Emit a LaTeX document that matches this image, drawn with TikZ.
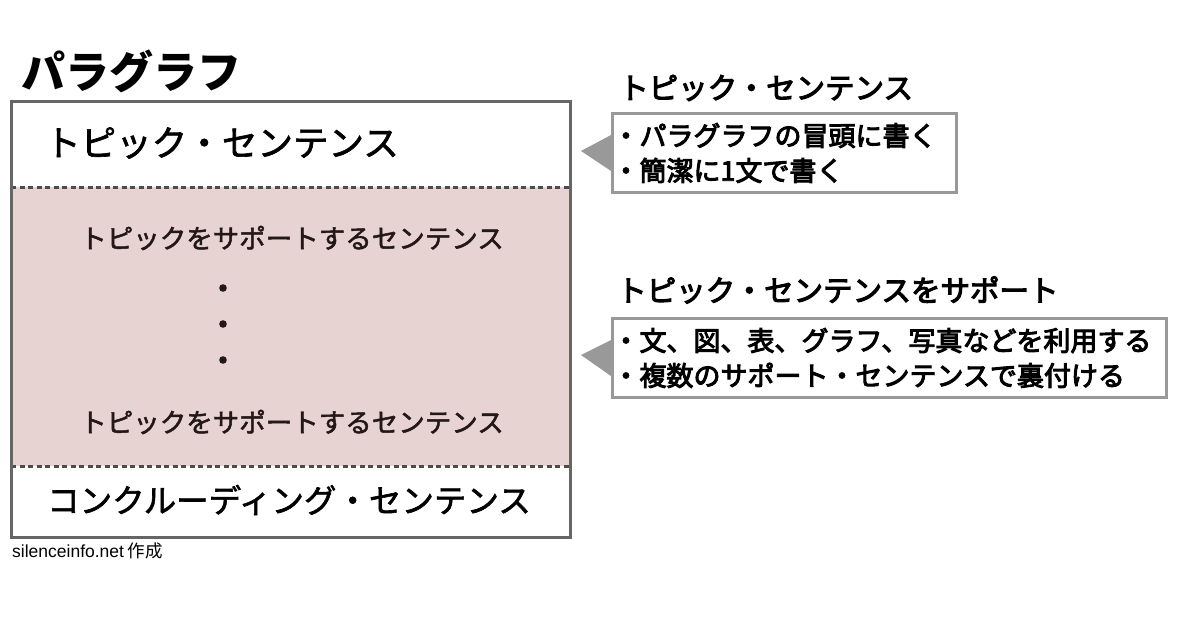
\documentclass[tikz,border=0pt]{standalone}
\usepackage{fontspec}
\setmainfont{Noto Sans CJK JP}
\newfontfamily\creditfont{Liberation Sans}
\newfontfamily\medfont[FakeBold=1.8]{Noto Sans CJK JP}
\newfontfamily\semifont[FakeBold=3.6]{Noto Sans CJK JP}
\usetikzlibrary{calc}
\definecolor{framegray}{HTML}{666666}
\definecolor{dashgray}{HTML}{4D4D4D}
\definecolor{notegray}{HTML}{999999}
\definecolor{supportbg}{HTML}{E6D3D2}
\definecolor{supportink}{HTML}{231815}
\tikzstyle{lbl}=[inner sep=0pt,text=black]
\tikzstyle{sect}=[lbl,font=\medfont\fontsize{33}{33}\selectfont]
\tikzstyle{supp}=[inner sep=0pt,text=supportink,font=\medfont\fontsize{26.5}{26.5}\selectfont]
\tikzstyle{head}=[lbl,font=\semifont\fontsize{29.5}{29.5}\selectfont]
\tikzstyle{note}=[draw=notegray,line width=3pt,fill=white,minimum height=79pt,inner sep=0pt,
  align=left,text width=#1,font=\semifont\fontsize{27}{35}\selectfont]
\tikzstyle{divider}=[draw=dashgray,line width=3pt,dash pattern=on 5pt off 3.5pt]
\tikzstyle{pointer}=[fill=notegray]

\begin{document}
\begin{tikzpicture}[x=1pt,y=-1pt]
	\useasboundingbox (0,0) rectangle (1178,632);
	% paragraph frame
	\fill[supportbg] (11,187) rectangle (570,466);
	\draw[divider] (11,187) -- (570,187);
	\draw[divider] (11,466) -- (570,466);
	\draw[framegray,line width=3pt] (11,101) rectangle (570,537);
	\node[lbl,font=\bfseries\fontsize{44}{44}\selectfont,anchor=west] (title) at (21,71) {パラグラフ};
	\node[sect,anchor=west,font=\medfont\fontsize{35.5}{35.5}\selectfont] (topic) at (45,143) {トピック・センテンス};
	\node[supp] (supA) at (292,238) {トピックをサポートするセンテンス};
	\foreach \y in {288,324,360} \fill[supportink] (223,\y) circle (3.8pt);
	\node[supp] (supB) at (292,422) {トピックをサポートするセンテンス};
	\node[sect,font=\medfont\fontsize{32.5}{32.5}\selectfont] (concl) at (289,500) {コンクルーディング・センテンス};
	\node[inner sep=0pt,anchor=west,font=\fontsize{17.5}{17.5}\selectfont] (credit) at (12,551) {{\creditfont silenceinfo.net} 作成};
	% notes
	\node[head,anchor=west] (headA) at (619,88) {トピック・センテンス};
	\node[note=344pt,anchor=north west] (noteA) at (611,112) {・パラグラフの冒頭に書く\\・簡潔に1文で書く};
	\node[head,anchor=west] (headB) at (617,290) {トピック・センテンスをサポート};
	\node[note=554pt,anchor=north west] (noteB) at (611,317) {・文、図、表、グラフ、写真などを利用する\\・複数のサポート・センテンスで裏付ける};
	\fill[pointer] ($(noteA.west)+(0,-18)$) -- (581,151) -- ($(noteA.west)+(0,18)$) -- cycle;
	\fill[pointer] ($(noteB.west)+(0,-18)$) -- (581,355) -- ($(noteB.west)+(0,18)$) -- cycle;
\end{tikzpicture}
\end{document}
